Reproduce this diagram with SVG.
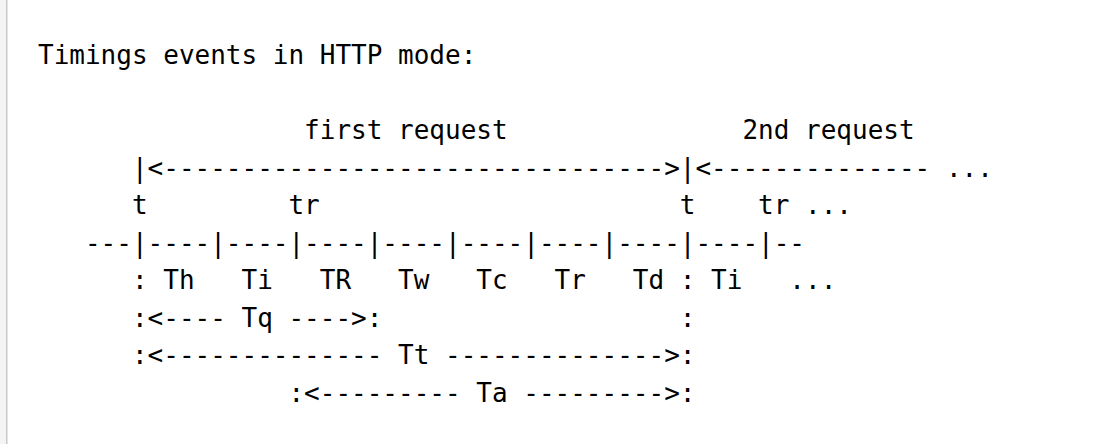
<svg xmlns="http://www.w3.org/2000/svg" width="1112" height="444" viewBox="0 0 1112 444">
<style>
text{font-family:"DejaVu Sans Mono","Liberation Mono",monospace;font-size:26px;fill:#000;white-space:pre}
</style>
<rect x="0" y="0" width="1112" height="444" fill="#ffffff"/>
<rect x="0" y="0" width="6" height="444" fill="#f4f4f4"/>
<rect x="6" y="0" width="1.5" height="444" fill="#c9c9c9"/>
<g id="timing-text" xml:space="preserve">
<text x="38" y="64">Timings events in HTTP mode:</text>
<text x="38" y="139">                 first request               2nd request</text>
<text x="38" y="176.5">      |&lt;--------------------------------&gt;|&lt;-------------- ...</text>
<text x="38" y="214">      t         tr                       t    tr ...</text>
<text x="38" y="251.5">   ---|----|----|----|----|----|----|----|----|--</text>
<text x="38" y="289">      : Th   Ti   TR   Tw   Tc   Tr   Td : Ti   ...</text>
<text x="38" y="326.5">      :&lt;---- Tq ----&gt;:                   :</text>
<text x="38" y="364">      :&lt;-------------- Tt --------------&gt;:</text>
<text x="38" y="401.5">                :&lt;--------- Ta ---------&gt;:</text>
</g>
</svg>
